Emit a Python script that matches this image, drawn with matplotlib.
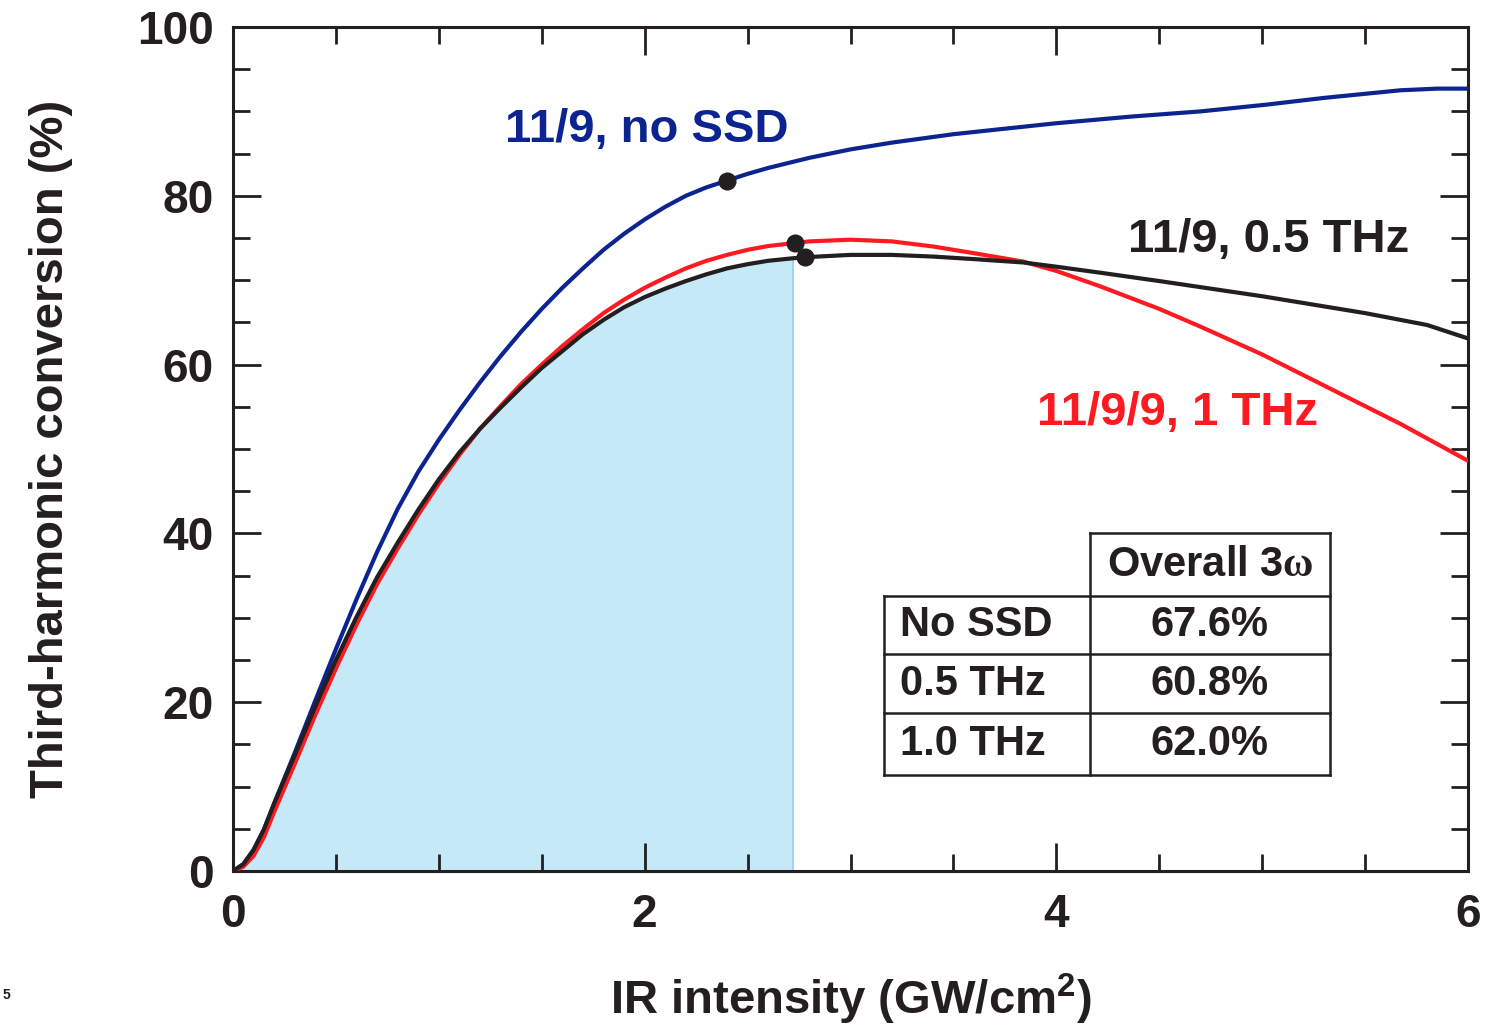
import numpy as np
import matplotlib
matplotlib.use("Agg")
from matplotlib import pyplot as plt

plt.rcParams['font.family'] = ['Liberation Sans', 'DejaVu Sans']
plt.rcParams['font.weight'] = 'bold'
plt.rcParams['mathtext.fontset'] = 'custom'
plt.rcParams['mathtext.rm'] = 'Liberation Serif'
plt.rcParams['mathtext.bf'] = 'Liberation Sans:bold'

# 11/9, no SSD
blue_x = [0, 0.05, 0.1, 0.15, 0.2, 0.3, 0.4, 0.5, 0.6, 0.7, 0.8, 0.9, 1.0, 1.1,
          1.2, 1.3, 1.4, 1.5, 1.6, 1.7, 1.8, 1.9, 2.0, 2.1, 2.2, 2.3, 2.4, 2.5,
          2.6, 2.8, 3.0, 3.2, 3.5, 3.73, 4.0, 4.37, 4.7, 5.02, 5.3, 5.67, 5.85, 6.0]
blue_y = [0, 0.8, 2.5, 4.9, 8.0, 14.0, 20.2, 26.3, 32.2, 37.8, 42.9, 47.3, 51.1, 54.6,
          57.9, 61.0, 63.9, 66.6, 69.1, 71.4, 73.6, 75.5, 77.2, 78.7, 80.0, 81.0, 81.8, 82.6,
          83.3, 84.5, 85.5, 86.3, 87.3, 87.9, 88.6, 89.4, 90.0, 90.8, 91.6, 92.5, 92.7, 92.7]

# 11/9, 0.5 THz
black_x = [0, 0.05, 0.1, 0.15, 0.2, 0.3, 0.4, 0.5, 0.6, 0.7, 0.8, 0.9, 1.0, 1.1,
           1.2, 1.3, 1.4, 1.5, 1.6, 1.7, 1.8, 1.9, 2.0, 2.1, 2.2, 2.3, 2.4, 2.5,
           2.6, 2.72, 2.8, 3.0, 3.2, 3.4, 3.6, 3.84, 4.0, 4.21, 4.5, 5.0, 5.5, 5.8, 6.0]
black_y = [0, 0.8, 2.5, 4.9, 8.0, 13.7, 19.5, 25.0, 30.1, 34.8, 38.9, 42.8, 46.4, 49.6,
           52.4, 54.9, 57.3, 59.6, 61.6, 63.6, 65.3, 66.8, 68.0, 69.0, 69.9, 70.7, 71.4, 71.9,
           72.3, 72.6, 72.75, 73.0, 73.0, 72.8, 72.5, 72.1, 71.6, 70.9, 69.9, 68.1, 66.1, 64.7, 63.1]

# 11/9/9, 1 THz
red_x = [0, 0.05, 0.1, 0.15, 0.2, 0.3, 0.4, 0.5, 0.6, 0.7, 0.8, 0.9, 1.0, 1.1,
         1.2, 1.3, 1.4, 1.5, 1.6, 1.7, 1.8, 1.9, 2.0, 2.1, 2.2, 2.3, 2.4, 2.5,
         2.6, 2.8, 3.0, 3.2, 3.4, 3.6, 3.84, 4.0, 4.21, 4.5, 4.7, 5.0, 5.18, 5.4, 5.67, 6.0]
red_y = [0, 0.5, 1.8, 4.0, 7.0, 12.7, 18.5, 24.0, 29.2, 34.0, 38.2, 42.2, 45.9, 49.3,
         52.4, 55.1, 57.7, 60.0, 62.2, 64.2, 66.1, 67.7, 69.1, 70.3, 71.4, 72.3, 73.0, 73.6,
         74.05, 74.6, 74.8, 74.6, 74.0, 73.2, 72.2, 71.1, 69.3, 66.6, 64.5, 61.2, 59.0, 56.3, 53.0, 48.6]

# operating points (black dots)
dot_x = [2.40, 2.73, 2.78]
dot_y = [81.8, 74.4, 72.7]

shade_end = 2.72

row_labels = ["No SSD", "0.5 THz", "1.0 THz"]
overall = ["67.6%", "60.8%", "62.0%"]

c_blue = '#0c2490'
c_red = '#ff1a22'
c_black = '#231f20'
c_fill = '#c6e9f8'

fig = plt.figure(figsize=(14.86, 10.27), dpi=100)
ax = fig.add_axes([0.1568, 0.1519, 0.8311, 0.8218])

bx = np.array(black_x)
by = np.array(black_y)
ax.fill_between(bx, by, 0, where=bx <= shade_end, color=c_fill, lw=0, zorder=1)
ax.vlines(shade_end, 0, by[bx == shade_end][0], color='#8fd2ef', lw=1.2, zorder=1)

ax.plot(blue_x, blue_y, color=c_blue, lw=3, zorder=3)
ax.plot(red_x, red_y, color=c_red, lw=3, zorder=3)
ax.plot(black_x, black_y, color=c_black, lw=3, zorder=4)
ax.plot(dot_x, dot_y, 'o', color=c_black, ms=12, zorder=5)

ax.set_xlim(0, 6)
ax.set_ylim(0, 100)
ax.set_xticks([0, 2, 4, 6])
ax.set_xticks(np.arange(0, 6.01, 0.5), minor=True)
ax.set_yticks([0, 20, 40, 60, 80, 100])
ax.set_yticks(np.arange(0, 101, 5), minor=True)
ax.tick_params(which='both', direction='in', top=True, right=True, width=2, color=c_black)
ax.tick_params(which='major', length=20)
ax.tick_params(which='minor', length=12.5)
ax.tick_params(axis='y', which='major', labelsize=33, pad=14, labelcolor=c_black)
ax.tick_params(axis='x', which='major', labelsize=33, pad=16, labelcolor=c_black)
for s in ax.spines.values():
    s.set_linewidth(2.2)
    s.set_color(c_black)

ax.set_xlabel(r'IR intensity (GW/cm$^\mathbf{2}$)', fontsize=34, fontweight='bold',
              labelpad=25, color=c_black)
ax.set_ylabel('Third-harmonic conversion (%)', fontsize=34, fontweight='bold',
              labelpad=46, color=c_black)

ax.text(2.01, 87.8, '11/9, no SSD', color=c_blue, fontsize=34, fontweight='bold',
        ha='center', va='center')
ax.text(5.03, 74.8, '11/9, 0.5 THz', color=c_black, fontsize=34, fontweight='bold',
        ha='center', va='center')
ax.text(4.59, 54.3, '11/9/9, 1 THz', color=c_red, fontsize=34, fontweight='bold',
        ha='center', va='center')

# summary table drawn in axes coordinates
tx0, tx1, tx2 = 0.527, 0.694, 0.888
ty = [0.4005, 0.3258, 0.2571, 0.1872, 0.1137]
tr = ax.transAxes
lk = dict(color=c_black, lw=1.8, transform=tr, zorder=6, solid_capstyle='projecting')
ax.plot([tx1, tx2], [ty[0], ty[0]], **lk)
for y in ty[1:]:
    ax.plot([tx0, tx2], [y, y], **lk)
ax.plot([tx0, tx0], [ty[1], ty[4]], **lk)
ax.plot([tx1, tx1], [ty[0], ty[4]], **lk)
ax.plot([tx2, tx2], [ty[0], ty[4]], **lk)
ax.text((tx1 + tx2) / 2, (ty[0] + ty[1]) / 2, r'Overall 3$\mathrm{\omega}$', transform=tr,
        fontsize=30, fontweight='bold', ha='center', va='center', color=c_black)
for i in range(3):
    yc = (ty[i + 1] + ty[i + 2]) / 2
    ax.text(tx0 + 0.013, yc, row_labels[i], transform=tr, fontsize=30, fontweight='bold',
            ha='left', va='center', color=c_black)
    ax.text((tx1 + tx2) / 2, yc, overall[i], transform=tr, fontsize=30, fontweight='bold',
            ha='center', va='center', color=c_black)

fig.text(0.002, 0.027, '5', fontsize=10, fontweight='bold', color=c_black)

fig.savefig('out.png', dpi=100)
